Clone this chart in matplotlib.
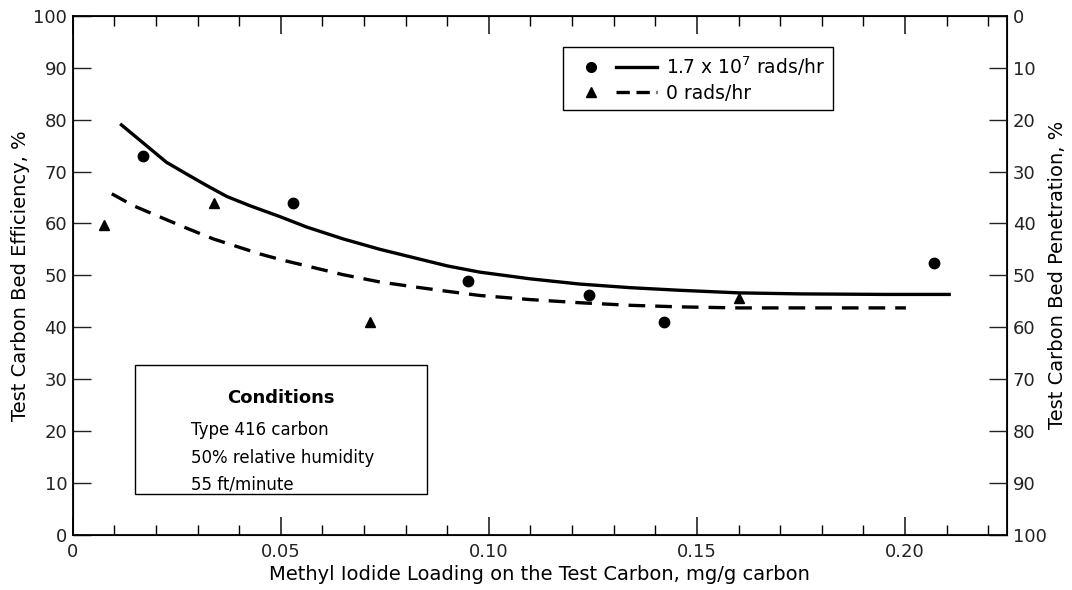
import numpy as np
import matplotlib
matplotlib.use("Agg")
import matplotlib.pyplot as plt
from matplotlib.patches import Rectangle
from matplotlib.legend_handler import HandlerTuple

# measured points, 1.7 x 10^7 rads/hr (circles)
irr_x = [0.017, 0.053, 0.095, 0.124, 0.142, 0.207]
irr_y = [73.0, 64.0, 48.8, 46.1, 41.0, 52.3]

# measured points, 0 rads/hr (triangles)
zero_x = [0.0075, 0.034, 0.0715, 0.160]
zero_y = [59.7, 63.9, 41.0, 45.7]

# hand-drawn fitted curves
irr_curve_x = [0.0114, 0.0186, 0.0225, 0.0274, 0.0322, 0.037, 0.0426, 0.0498, 0.0562, 0.065,
               0.0738, 0.0834, 0.090, 0.0978, 0.110, 0.1218, 0.134, 0.1458, 0.160,
               0.175, 0.195, 0.211]
irr_curve_y = [79.2, 74.4, 71.8, 69.5, 67.3, 65.2, 63.4, 61.3, 59.3, 57.0,
               55.0, 53.1, 51.8, 50.6, 49.3, 48.3, 47.6, 47.1, 46.6,
               46.4, 46.3, 46.3]
zero_curve_x = [0.0094, 0.0146, 0.0202, 0.027, 0.0338, 0.040, 0.045, 0.0505, 0.0562, 0.065,
                0.0738, 0.0826, 0.090, 0.0978, 0.110, 0.1218, 0.134, 0.1458, 0.160,
                0.180, 0.2002]
zero_curve_y = [65.7, 63.4, 61.5, 59.2, 57.0, 55.4, 54.1, 52.9, 51.8, 50.1,
                48.7, 47.7, 46.9, 46.1, 45.3, 44.7, 44.2, 43.9, 43.7,
                43.7, 43.7]

x_major = [0, 0.05, 0.10, 0.15, 0.20]
x_labels = ["0", "0.05", "0.10", "0.15", "0.20"]
y_major = list(range(0, 101, 10))

legend_labels = ["1.7 x 10$^{7}$ rads/hr", "0 rads/hr"]
cond_title = "Conditions"
cond_lines = ["Type 416 carbon", "50% relative humidity", "55 ft/minute"]

plt.rcParams["font.family"] = ["DejaVu Sans"]

fig = plt.figure(figsize=(10.72, 5.90), dpi=100)
ax = fig.add_axes([0.0678, 0.094, 0.8716, 0.879])

ax.plot(irr_curve_x, irr_curve_y, color="black", lw=2.4, solid_capstyle="butt",
        solid_joinstyle="round")
ax.plot(zero_curve_x, zero_curve_y, color="black", lw=2.4, dashes=(5, 3))
ax.plot(irr_x, irr_y, "o", color="black", ms=7.5, ls="none")
ax.plot(zero_x, zero_y, "^", color="black", ms=7.5, ls="none")

ax.set_xlim(0, 0.2245)
ax.set_ylim(0, 100)
ax.set_xticks(x_major)
ax.set_xticklabels(x_labels)
ax.set_xticks(np.arange(0, 0.225, 0.01), minor=True)
ax.set_yticks(y_major)
ax.tick_params(axis="x", which="major", direction="in", length=13, width=1.2,
               top=True, bottom=True, labelsize=13, pad=6, colors="#222222")
ax.tick_params(axis="x", which="minor", direction="in", length=7, width=1.0,
               top=True, bottom=True)
ax.tick_params(axis="y", which="major", direction="in", length=13, width=1.0,
               left=True, right=False, labelsize=13, pad=4, colors="#222222")
for s in ax.spines.values():
    s.set_linewidth(1.3)

ax.set_xlabel("Methyl Iodide Loading on the Test Carbon, mg/g carbon", fontsize=14, labelpad=3)
ax.set_ylabel("Test Carbon Bed Efficiency, %", fontsize=14, labelpad=2)

ax2 = ax.twinx()
ax2.set_ylim(100, 0)
ax2.set_yticks(y_major)
ax2.tick_params(axis="y", direction="in", length=13, width=1.0, labelsize=13, pad=4, colors="#222222")
ax2.set_ylabel("Test Carbon Bed Penetration, %", fontsize=14, labelpad=1, rotation=90)

# legend: marker + line pairs
h_c, = ax.plot([], [], "o", color="black", ms=7)
h_t, = ax.plot([], [], "^", color="black", ms=7)
h_s, = ax.plot([], [], color="black", lw=2.4)
h_d, = ax.plot([], [], color="black", lw=2.4, dashes=(4, 2))
leg = ax.legend([(h_c, h_s), (h_t, h_d)], legend_labels,
                handler_map={tuple: HandlerTuple(ndivide=None, pad=0.3)},
                loc="upper left", bbox_to_anchor=(563 / 1072, 1 - 47 / 590),
                bbox_transform=fig.transFigure, fontsize=13.5, handlelength=4.6,
                fancybox=False, edgecolor="black", framealpha=1, borderpad=0.4,
                borderaxespad=0, labelspacing=0.3, handletextpad=0.5)
leg.get_frame().set_linewidth(1.0)

# conditions box
ax.add_patch(Rectangle((0.0667, 0.078), 0.3125, 0.249, transform=ax.transAxes,
                       fill=False, edgecolor="black", lw=1.0))
ax.text(0.2229, 0.264, cond_title, transform=ax.transAxes, ha="center", va="center",
        fontsize=13, fontweight="bold")
for i, line in enumerate(cond_lines):
    ax.text(0.127, 0.201 - i * 0.0525, line, transform=ax.transAxes, ha="left", va="center",
            fontsize=12)

fig.savefig("out.png", dpi=100)
